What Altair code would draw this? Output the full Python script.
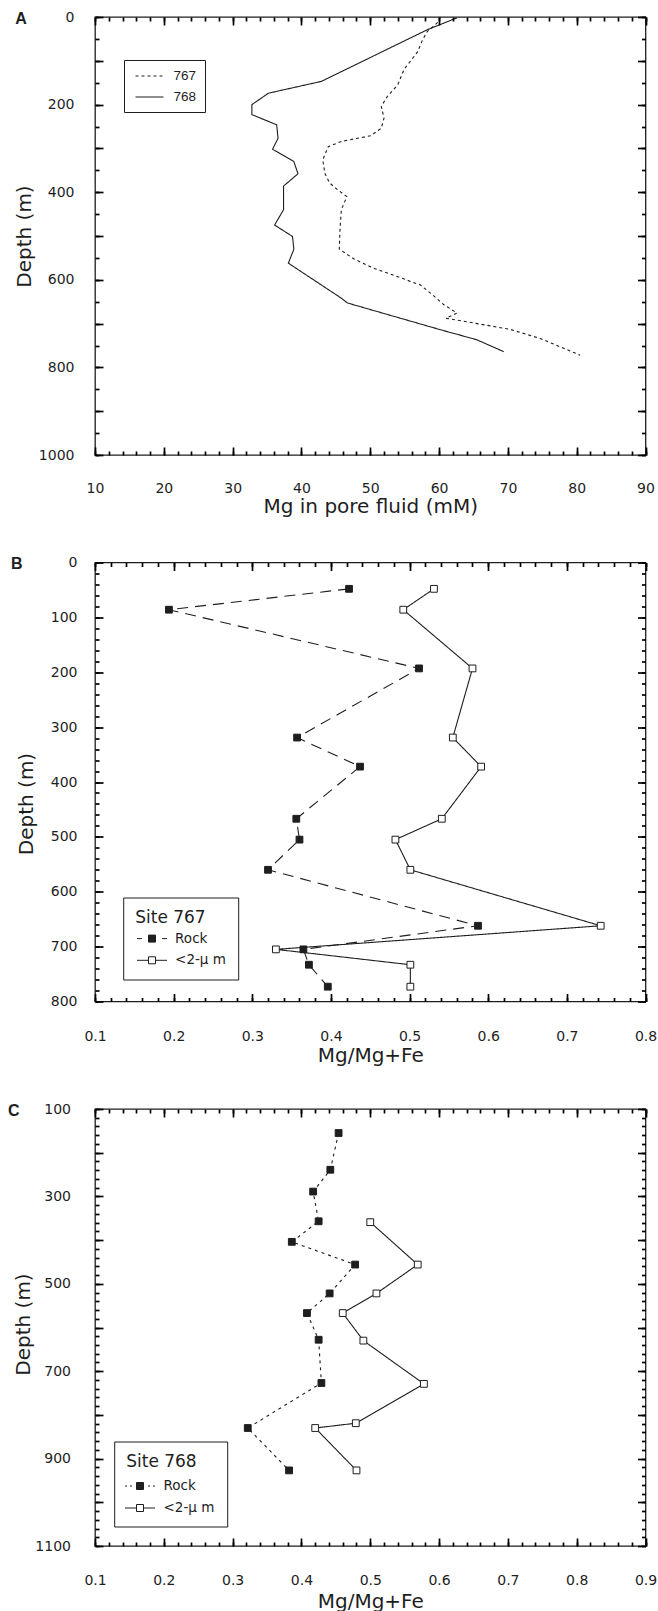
import altair as alt
import pandas as pd

# ---------------- Panel A: Mg in pore fluid (mM) ----------------
A767_DEPTH = [0, 14, 33, 52, 79, 120, 155, 181, 204, 231, 254, 271, 284, 296, 326,
              357, 379, 395, 410, 440, 486, 530, 553, 574, 593, 612, 631, 657, 676,
              688, 692, 713, 734, 772]
A767_MG = [60.2, 59.7, 58.3, 57.6, 56.9, 54.9, 54.0, 52.5, 51.6, 52.0, 51.6, 50.1,
           45.8, 43.9, 43.1, 43.4, 44.1, 45.3, 46.6, 45.8, 45.6, 45.5, 47.7, 50.6,
           54.0, 57.3, 58.8, 60.7, 62.6, 61.0, 62.6, 70.3, 74.7, 80.5]
A768_DEPTH = [2, 29, 147, 174, 200, 223, 246, 277, 302, 330, 358, 386, 440, 475,
              501, 530, 562, 642, 653, 714, 737, 764]
A768_MG = [62.6, 58.3, 42.9, 35.2, 32.8, 32.8, 36.4, 36.6, 35.8, 38.9, 39.5, 37.4,
           37.4, 36.1, 38.7, 38.9, 38.1, 45.8, 46.7, 60.2, 65.5, 69.4]
A_SITES = ["767", "768"]

# ---------------- Panel B: Site 767, Mg/Mg+Fe ----------------
B_ROCK_DEPTH = [48, 86, 193, 319, 372, 467, 505, 560, 662, 705, 733, 773]
B_ROCK_RATIO = [0.423, 0.194, 0.512, 0.357, 0.437, 0.356, 0.360, 0.320, 0.587,
                0.365, 0.372, 0.396]
B_CLAY_DEPTH = [48, 86, 193, 319, 372, 467, 505, 560, 662, 705, 733, 773]
B_CLAY_RATIO = [0.531, 0.492, 0.580, 0.555, 0.591, 0.541, 0.482, 0.501, 0.743,
                0.330, 0.501, 0.501]

# ---------------- Panel C: Site 768, Mg/Mg+Fe ----------------
C_ROCK_DEPTH = [155, 239, 289, 357, 404, 456, 522, 567, 628, 727, 830, 927]
C_ROCK_RATIO = [0.454, 0.442, 0.417, 0.425, 0.386, 0.478, 0.441, 0.408, 0.425,
                0.429, 0.322, 0.382]
C_CLAY_DEPTH = [359, 456, 522, 567, 630, 729, 819, 830, 927]
C_CLAY_RATIO = [0.500, 0.569, 0.509, 0.460, 0.490, 0.578, 0.479, 0.420, 0.480]

KINDS = ["Rock", "<2-\u03bc m"]

# ---------------- tick labels ----------------
A_XLABELS = [10, 20, 30, 40, 50, 60, 70, 80, 90]
A_YLABELS = [0, 200, 400, 600, 800, 1000]
B_XLABELS = [0.1, 0.2, 0.3, 0.4, 0.5, 0.6, 0.7, 0.8]
B_YLABELS = [0, 100, 200, 300, 400, 500, 600, 700, 800]
C_XLABELS = [0.1, 0.2, 0.3, 0.4, 0.5, 0.6, 0.7, 0.8, 0.9]
C_YLABELS = [100, 300, 500, 700, 900, 1100]


def steps(lo, hi, step):
    n = int(round((hi - lo) / step))
    return [round(lo + i * step, 6) for i in range(n + 1)]


INK = "#1e1e1e"
TICK = "#000000"
FONT = "DejaVu Sans"

# tables
dfA = pd.DataFrame({
    "depth": A767_DEPTH + A768_DEPTH,
    "mg": A767_MG + A768_MG,
    "site": [A_SITES[0]] * len(A767_DEPTH) + [A_SITES[1]] * len(A768_DEPTH),
})
dfB = pd.DataFrame({
    "depth": B_ROCK_DEPTH + B_CLAY_DEPTH,
    "ratio": B_ROCK_RATIO + B_CLAY_RATIO,
    "kind": [KINDS[0]] * len(B_ROCK_DEPTH) + [KINDS[1]] * len(B_CLAY_DEPTH),
})
dfC = pd.DataFrame({
    "depth": C_ROCK_DEPTH + C_CLAY_DEPTH,
    "ratio": C_ROCK_RATIO + C_CLAY_RATIO,
    "kind": [KINDS[0]] * len(C_ROCK_DEPTH) + [KINDS[1]] * len(C_CLAY_DEPTH),
})


def tick_axis(orient, values, size):
    # inward ticks only: no labels, no title
    return alt.Axis(orient=orient, values=values, tickSize=size, offset=-size,
                    labels=False, title=None, domain=False, grid=False, ticks=True,
                    tickColor=TICK, tickWidth=1.7, tickOpacity=1, zindex=1)


def frame_layers(df, xf, xscale, yscale, xmajor, xminor, ymajor, yminor, ylabels,
                 xfmt, xtitle, letter, letter_dx, xlabpad, ylabpad, xtitle_y,
                 ytitle_x, ytitle_y):
    base = alt.Chart(df).mark_point(opacity=0, size=1)

    def pair(xaxis, yaxis):
        return base.encode(
            x=alt.X(xf + ":Q", scale=xscale, axis=xaxis),
            y=alt.Y("depth:Q", scale=yscale, axis=yaxis),
        )

    cond = " || ".join("datum.value == %s" % v for v in ylabels)
    lab_expr = "(%s) ? datum.label : ''" % cond
    layers = [
        pair(tick_axis("bottom", xmajor, 8), tick_axis("left", ymajor, 8)),
        pair(tick_axis("bottom", xminor, 4), tick_axis("left", yminor, 4)),
        pair(tick_axis("top", xmajor, 8), tick_axis("right", ymajor, 8)),
        pair(tick_axis("top", xminor, 4), tick_axis("right", yminor, 4)),
        # labels and titles (no ticks)
        pair(
            alt.Axis(orient="bottom", values=xmajor, format=xfmt, ticks=False,
                     domain=False, grid=False, labelPadding=xlabpad, labelFlush=False,
                     labelOverlap=False, labelFont=FONT, labelFontSize=14, labelColor=INK,
                     title=xtitle, titleFont=FONT, titleFontSize=20,
                     titleFontWeight="normal", titleColor=INK, titleY=xtitle_y,
                     titleBaseline="middle"),
            alt.Axis(orient="left", values=ymajor, format="d", labelExpr=lab_expr,
                     ticks=False, domain=False, grid=False, labelPadding=ylabpad,
                     labelFlush=False, labelOverlap=False, labelFont=FONT,
                     labelFontSize=14, labelColor=INK, title="Depth (m)",
                     titleFont=FONT, titleFontSize=20, titleFontWeight="normal",
                     titleColor=INK, titleX=ytitle_x, titleY=ytitle_y,
                     titleAlign="center", titleBaseline="middle"),
        ),
        # panel letter
        pair(
            alt.Axis(orient="top", values=xmajor, ticks=False, labels=False,
                     domain=False, grid=False, title=letter, titleX=letter_dx,
                     titleY=1, titleAngle=0, titleAlign="center",
                     titleBaseline="middle", titleFont="Liberation Sans",
                     titleFontSize=16, titleFontWeight="bold", titleColor=INK),
            None,
        ),
    ]
    return layers


# ---------------- Panel A ----------------
xsA = alt.Scale(domain=[10, 90], nice=False, zero=False)
ysA = alt.Scale(domain=[0, 1000], nice=False, zero=False, reverse=True)
legA = alt.Legend(orient="none", legendX=29, legendY=43, title=None,
                  symbolType="M-2,0H2", symbolSize=196, symbolOffset=9.5,
                  symbolStrokeColor=INK, symbolStrokeWidth=1.1,
                  labelOffset=16, rowPadding=6, padding=8,
                  labelFont="Liberation Sans", labelFontSize=13.5, labelColor=INK,
                  strokeColor=INK, fillColor="white")
lineA = alt.Chart(dfA).mark_line(strokeWidth=1.1, color=INK).encode(
    x=alt.X("mg:Q", scale=xsA, axis=None),
    y=alt.Y("depth:Q", scale=ysA, axis=None),
    strokeDash=alt.StrokeDash("site:N", scale=alt.Scale(domain=A_SITES, range=[[3, 3], [1, 0]]),
                              legend=legA),
    order="depth:Q",
)
panelA = alt.layer(
    *frame_layers(dfA, "mg", xsA, ysA, A_XLABELS, steps(10, 90, 2), steps(0, 1000, 100),
                  steps(0, 1000, 50), A_YLABELS, "d", "Mg  in pore fluid (mM)", "A",
                  -74.5, 26, 21, 51, -71, 219),
    lineA,
).resolve_axis(x="independent", y="independent").properties(width=550.5, height=438)

KINDS_REV = [KINDS[1], KINDS[0]]


def mineral_panel(df, xdomain, ydomain, xlabels, ylabels, ymajor, yminor, rock_dash,
                  rock_path, clay_path, site_title, letter, letter_dx, xlabpad, ylabpad,
                  xtitle_y, ytitle_x, ytitle_y, leg_xy, leg_kw, height):
    xs = alt.Scale(domain=xdomain, nice=False, zero=False)
    ys = alt.Scale(domain=ydomain, nice=False, zero=False, reverse=True)
    line = alt.Chart(df).mark_line(strokeWidth=1.1, color=INK).encode(
        x=alt.X("ratio:Q", scale=xs, axis=None),
        y=alt.Y("depth:Q", scale=ys, axis=None),
        strokeDash=alt.StrokeDash("kind:N", scale=alt.Scale(domain=KINDS_REV,
                                                             range=[[1, 0], rock_dash]),
                                  legend=None),
        order="depth:Q",
    )
    pts = alt.Chart(df).mark_square(size=46, filled=True, stroke=INK, strokeWidth=1,
                                    opacity=1).encode(
        x=alt.X("ratio:Q", scale=xs, axis=None),
        y=alt.Y("depth:Q", scale=ys, axis=None),
        color=alt.Color("kind:N", scale=alt.Scale(domain=KINDS_REV, range=["white", INK]),
                        legend=None),
    )
    leg = alt.Legend(orient="none", legendX=leg_xy[0], legendY=leg_xy[1], title=site_title,
                     titleFont=FONT, titleFontSize=17, titleFontWeight="normal",
                     titleColor=INK, labelFont=FONT, labelFontSize=13.5, labelColor=INK,
                     symbolSize=196, symbolStrokeWidth=1,
                     padding=12, strokeColor=INK, fillColor="white",
                     **leg_kw)
    legl = alt.Chart(df).mark_point(size=0, opacity=1, filled=False, stroke=INK,
                                    strokeWidth=1).encode(
        x=alt.X("ratio:Q", scale=xs, axis=None),
        y=alt.Y("depth:Q", scale=ys, axis=None),
        shape=alt.Shape("kind:N", scale=alt.Scale(domain=KINDS, range=[rock_path, clay_path]),
                        legend=leg),
        fill=alt.Fill("kind:N", scale=alt.Scale(domain=KINDS, range=[INK, "white"]),
                      legend=leg),
    )
    frames = frame_layers(df, "ratio", xs, ys, xlabels, steps(xdomain[0], xdomain[1], 0.02),
                          ymajor, yminor, ylabels, ".1f", "Mg/Mg+Fe", letter, letter_dx,
                          xlabpad, ylabpad, xtitle_y, ytitle_x, ytitle_y)
    return alt.layer(*frames, line, pts, legl).resolve_axis(
        x="independent", y="independent").properties(width=550.5, height=height)


SQ = "M-0.5,-0.5H0.5V0.5H-0.5Z"
P_ROCK_B = "M-2.14,0H-1.43M1.43,0H2.14" + SQ
P_ROCK_C = "M-2.14,0H-1.86M-1.43,0H-1.14M1.14,0H1.43M1.86,0H2.14" + SQ
P_CLAY = "M-2.14,0H-0.5M0.5,0H2.14" + SQ

panelB = mineral_panel(dfB, [0.1, 0.8], [0, 800], B_XLABELS, B_YLABELS, steps(0, 800, 100),
                       steps(0, 800, 20), [11, 7], P_ROCK_B, P_CLAY, "Site 767", "B", -78.8,
                       27.5, 18, 54, -69, 241, (28.2, 335),
                       dict(titlePadding=4.6, rowPadding=7.7, symbolOffset=9.3, labelOffset=15.6),
                       439)
panelC = mineral_panel(dfC, [0.1, 0.9], [100, 1100], C_XLABELS, C_YLABELS, steps(100, 1100, 100),
                       steps(100, 1100, 20), [3, 4], P_ROCK_C, P_CLAY, "Site 768", "C", -81.8,
                       27, 24.5, 55, -72, 215, (19.2, 332.5),
                       dict(titlePadding=8, rowPadding=8, symbolOffset=6.3, labelOffset=16),
                       437)

chart = alt.vconcat(panelA, panelB, panelC, spacing=107.5, bounds="flush").resolve_scale(
    strokeDash="independent", shape="independent", fill="independent", color="independent"
).resolve_legend(
    strokeDash="independent", shape="independent", fill="independent", color="independent"
).properties(
    padding={"left": 6, "top": 9, "right": 0, "bottom": 0}
).configure_view(stroke=INK, strokeWidth=1.3)

chart.save("out.html", embed_options={"renderer": "svg", "actions": False})
